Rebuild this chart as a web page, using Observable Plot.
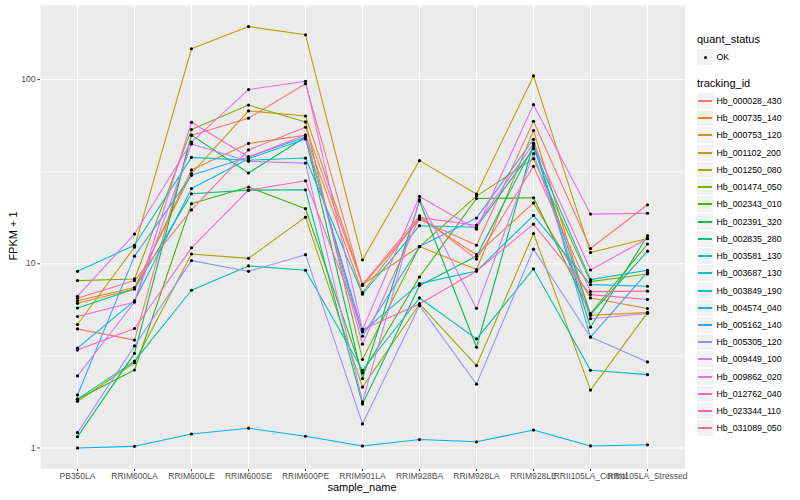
<!DOCTYPE html>
<html>
<head>
<meta charset="utf-8">
<script src="https://cdn.jsdelivr.net/npm/d3@7"></script>
<script src="https://cdn.jsdelivr.net/npm/@observablehq/plot@0.6"></script>
<style>
  body { margin: 0; background: white; }
  #wrap { position: relative; width: 800px; height: 500px; font-family: "Liberation Sans", Arial, Helvetica, sans-serif; }
  #chart { position: absolute; left: 0; top: 0; }
  .lg { position: absolute; white-space: nowrap; color: #000; }
  .axt { position: absolute; white-space: nowrap; color: #000; font-size: 11px; }
</style>
</head>
<body>
<div id="wrap">
  <div id="chart"></div>
</div>
<script>
const sampleNames = ["PB350LA","RRIM600LA","RRIM600LE","RRIM600SE","RRIM600PE","RRIM901LA","RRIM928BA","RRIM928LA","RRIM928LE","RRII105LA_Control","RRII105LA_Stressed"];

const trackingIds = ["Hb_000028_430","Hb_000735_140","Hb_000753_120","Hb_001102_200","Hb_001250_080","Hb_001474_050","Hb_002343_010","Hb_002391_320","Hb_002835_280","Hb_003581_130","Hb_003687_130","Hb_003849_190","Hb_004574_040","Hb_005162_140","Hb_005305_120","Hb_009449_100","Hb_009862_020","Hb_012762_040","Hb_023344_110","Hb_031089_050"];

const hueColors = ["#F8766D","#EA8331","#D89000","#C09B00","#A3A500","#7CAE00","#39B600","#00BB4E","#00BF7D","#00C1A3","#00BFC4","#00BAE0","#00B0F6","#35A2FF","#9590FF","#C77CFF","#E76BF3","#FA62DB","#FF62BC","#FF6C90"];

const quantStatus = ["OK"];
const yTicks = [1, 10, 100];

// FPKM + 1 per sample (order of sampleNames)
const hb_000028_430 = [4.43, 3.85, 49.9, 61.7, 95.0, 7.62, 17.4, 12.6, 59.4, 12.1, 20.9];
const hb_000735_140 = [6.1, 7.3, 32.3, 45.0, 49.9, 6.98, 17.8, 11.2, 21.4, 6.52, 5.71];
const hb_000753_120 = [6.3, 7.43, 30.9, 67.6, 63.4, 7.74, 12.4, 9.3, 52.9, 5.25, 5.43];
const hb_001102_200 = [4.68, 12.3, 147, 194, 175, 10.5, 36.3, 23.9, 104.7, 11.5, 13.7];
const hb_001250_080 = [1.79, 2.9, 11.3, 10.7, 17.9, 2.14, 6.05, 2.80, 14.6, 2.06, 5.43];
const hb_001474_050 = [8.1, 8.27, 53.5, 72.7, 58.9, 3.02, 12.4, 23.3, 37.2, 8.0, 8.8];
const hb_002343_010 = [1.84, 2.65, 21.2, 26.1, 19.9, 2.55, 8.47, 22.6, 22.8, 5.37, 12.8];
const hb_002391_320 = [1.15, 3.26, 49.9, 31.1, 48.8, 2.38, 21.9, 3.52, 45.0, 4.52, 14.2];
const hb_002835_280 = [5.75, 7.3, 24.0, 25.1, 25.2, 1.73, 7.62, 10.97, 43.6, 5.3, 11.7];
const hb_003581_130 = [1.84, 2.96, 7.18, 9.73, 9.22, 2.64, 6.52, 3.91, 9.37, 2.64, 2.5];
const hb_003687_130 = [9.1, 12.6, 37.8, 36.5, 37.5, 6.83, 16.1, 15.8, 42.2, 8.2, 9.22];
const hb_003849_190 = [3.48, 6.3, 25.6, 37.2, 47.6, 4.28, 7.8, 9.13, 18.3, 7.7, 7.55];
const hb_004574_040 = [1.0, 1.02, 1.19, 1.28, 1.157, 1.025, 1.11, 1.08, 1.25, 1.025, 1.04];
const hb_005162_140 = [1.94, 11.0, 30.2, 38.0, 48.8, 4.04, 12.4, 17.7, 47.4, 4.0, 9.0];
const hb_005305_120 = [1.21, 3.58, 10.4, 9.1, 11.2, 1.35, 5.93, 2.22, 12.0, 4.0, 2.93];
const hb_009449_100 = [2.46, 6.2, 44.7, 36.0, 35.2, 1.78, 22.3, 5.73, 39.6, 5.03, 5.37];
const hb_009862_020 = [6.66, 14.5, 45.8, 88.3, 97.9, 4.39, 23.2, 15.4, 73.1, 18.6, 18.8];
const hb_012762_040 = [5.17, 6.2, 58.6, 38.0, 50.0, 3.66, 17.8, 16.2, 45.0, 9.25, 13.7];
const hb_023344_110 = [3.40, 4.45, 12.2, 25.1, 28.2, 4.4, 6.05, 9.13, 16.4, 6.8, 6.4];
const hb_031089_050 = [6.5, 8.1, 19.6, 41.5, 55.1, 7.7, 18.2, 10.6, 33.8, 7.06, 7.1];

const seriesValues = [hb_000028_430, hb_000735_140, hb_000753_120, hb_001102_200, hb_001250_080, hb_001474_050, hb_002343_010, hb_002391_320, hb_002835_280, hb_003581_130, hb_003687_130, hb_003849_190, hb_004574_040, hb_005162_140, hb_005305_120, hb_009449_100, hb_009862_020, hb_012762_040, hb_023344_110, hb_031089_050];

const rows = [];
trackingIds.forEach((id, i) => {
  seriesValues[i].forEach((v, j) => rows.push({tracking_id: id, sample_name: sampleNames[j], fpkm: v, quant_status: "OK"}));
});

// log-scale limits with ggplot-like 5% expansion
const lo = Math.log10(d3.min(rows, d => d.fpkm)), hi = Math.log10(d3.max(rows, d => d.fpkm));
const ex = (hi - lo) * 0.05;
const yDomain = [Math.pow(10, lo - ex), Math.pow(10, hi + ex)];
const minorTicks = [Math.sqrt(10), Math.sqrt(1000)];

const chart = Plot.plot({
  width: 690,
  height: 500,
  marginLeft: 40,
  marginRight: 5.5,
  marginTop: 5,
  marginBottom: 31.5,
  style: {fontFamily: '"Liberation Sans", Arial, Helvetica, sans-serif', fontSize: "8.5px", color: "#4D4D4D", background: "white", overflow: "visible"},
  x: {type: "point", domain: sampleNames, padding: 0.6, label: null, tickSize: 2.75, tickPadding: 1.5},
  y: {type: "log", domain: yDomain, ticks: yTicks, tickFormat: d => String(d), label: null, tickSize: 2.75, tickPadding: 2.2},
  color: {domain: trackingIds, range: hueColors},
  marks: [
    Plot.frame({fill: "#EBEBEB", stroke: null}),
    Plot.ruleY(minorTicks, {stroke: "white", strokeWidth: 0.53}),
    Plot.ruleY(yTicks, {stroke: "white", strokeWidth: 1.07}),
    Plot.ruleX(sampleNames, {stroke: "white", strokeWidth: 1.07}),
    Plot.line(rows, {x: "sample_name", y: "fpkm", z: "tracking_id", stroke: "tracking_id", strokeWidth: 1.07}),
    Plot.dot(rows, {x: "sample_name", y: "fpkm", r: 1.6, fill: "black", stroke: null})
  ]
});
document.getElementById("chart").appendChild(chart);

const wrap = document.getElementById("wrap");
function addDiv(cls, text, styles) {
  const d = document.createElement("div");
  d.className = cls;
  if (text != null) d.textContent = text;
  Object.assign(d.style, styles);
  wrap.appendChild(d);
  return d;
}

// axis titles
addDiv("axt", "sample_name", {left: "362px", top: "481px", transform: "translateX(-50%)", lineHeight: "13px"});
addDiv("axt", "FPKM + 1", {left: "13px", top: "236px", transform: "translate(-50%,-50%) rotate(-90deg)", lineHeight: "13px"});

// legend: quant_status
addDiv("lg", "quant_status", {left: "697px", top: "33px", fontSize: "11px", lineHeight: "13px"});
const keySize = 17.28;
quantStatus.forEach((q, i) => {
  const cy = Math.round(57.2 + i * keySize);
  addDiv("lg", null, {left: "697px", top: (cy - 8) + "px", width: "16px", height: "16px", background: "#F2F2F2"});
  addDiv("lg", null, {left: "703.5px", top: (cy - 1.5) + "px", width: "3.2px", height: "3.2px", borderRadius: "50%", background: "black"});
  addDiv("lg", q, {left: "716.5px", top: (cy - 5.5) + "px", fontSize: "8.8px", lineHeight: "11px"});
});

// legend: tracking_id
addDiv("lg", "tracking_id", {left: "697px", top: "76.5px", fontSize: "11px", lineHeight: "13px"});
trackingIds.forEach((id, i) => {
  const cy = Math.round(101 + i * 17.23);
  addDiv("lg", null, {left: "697px", top: (cy - 8) + "px", width: "16px", height: "16px", background: "#F2F2F2"});
  addDiv("lg", null, {left: "698px", top: (cy - 1) + "px", width: "14px", height: "2px", background: hueColors[i]});
  addDiv("lg", id, {left: "716.5px", top: (cy - 5.5) + "px", fontSize: "8.8px", lineHeight: "11px"});
});
</script>
</body>
</html>
